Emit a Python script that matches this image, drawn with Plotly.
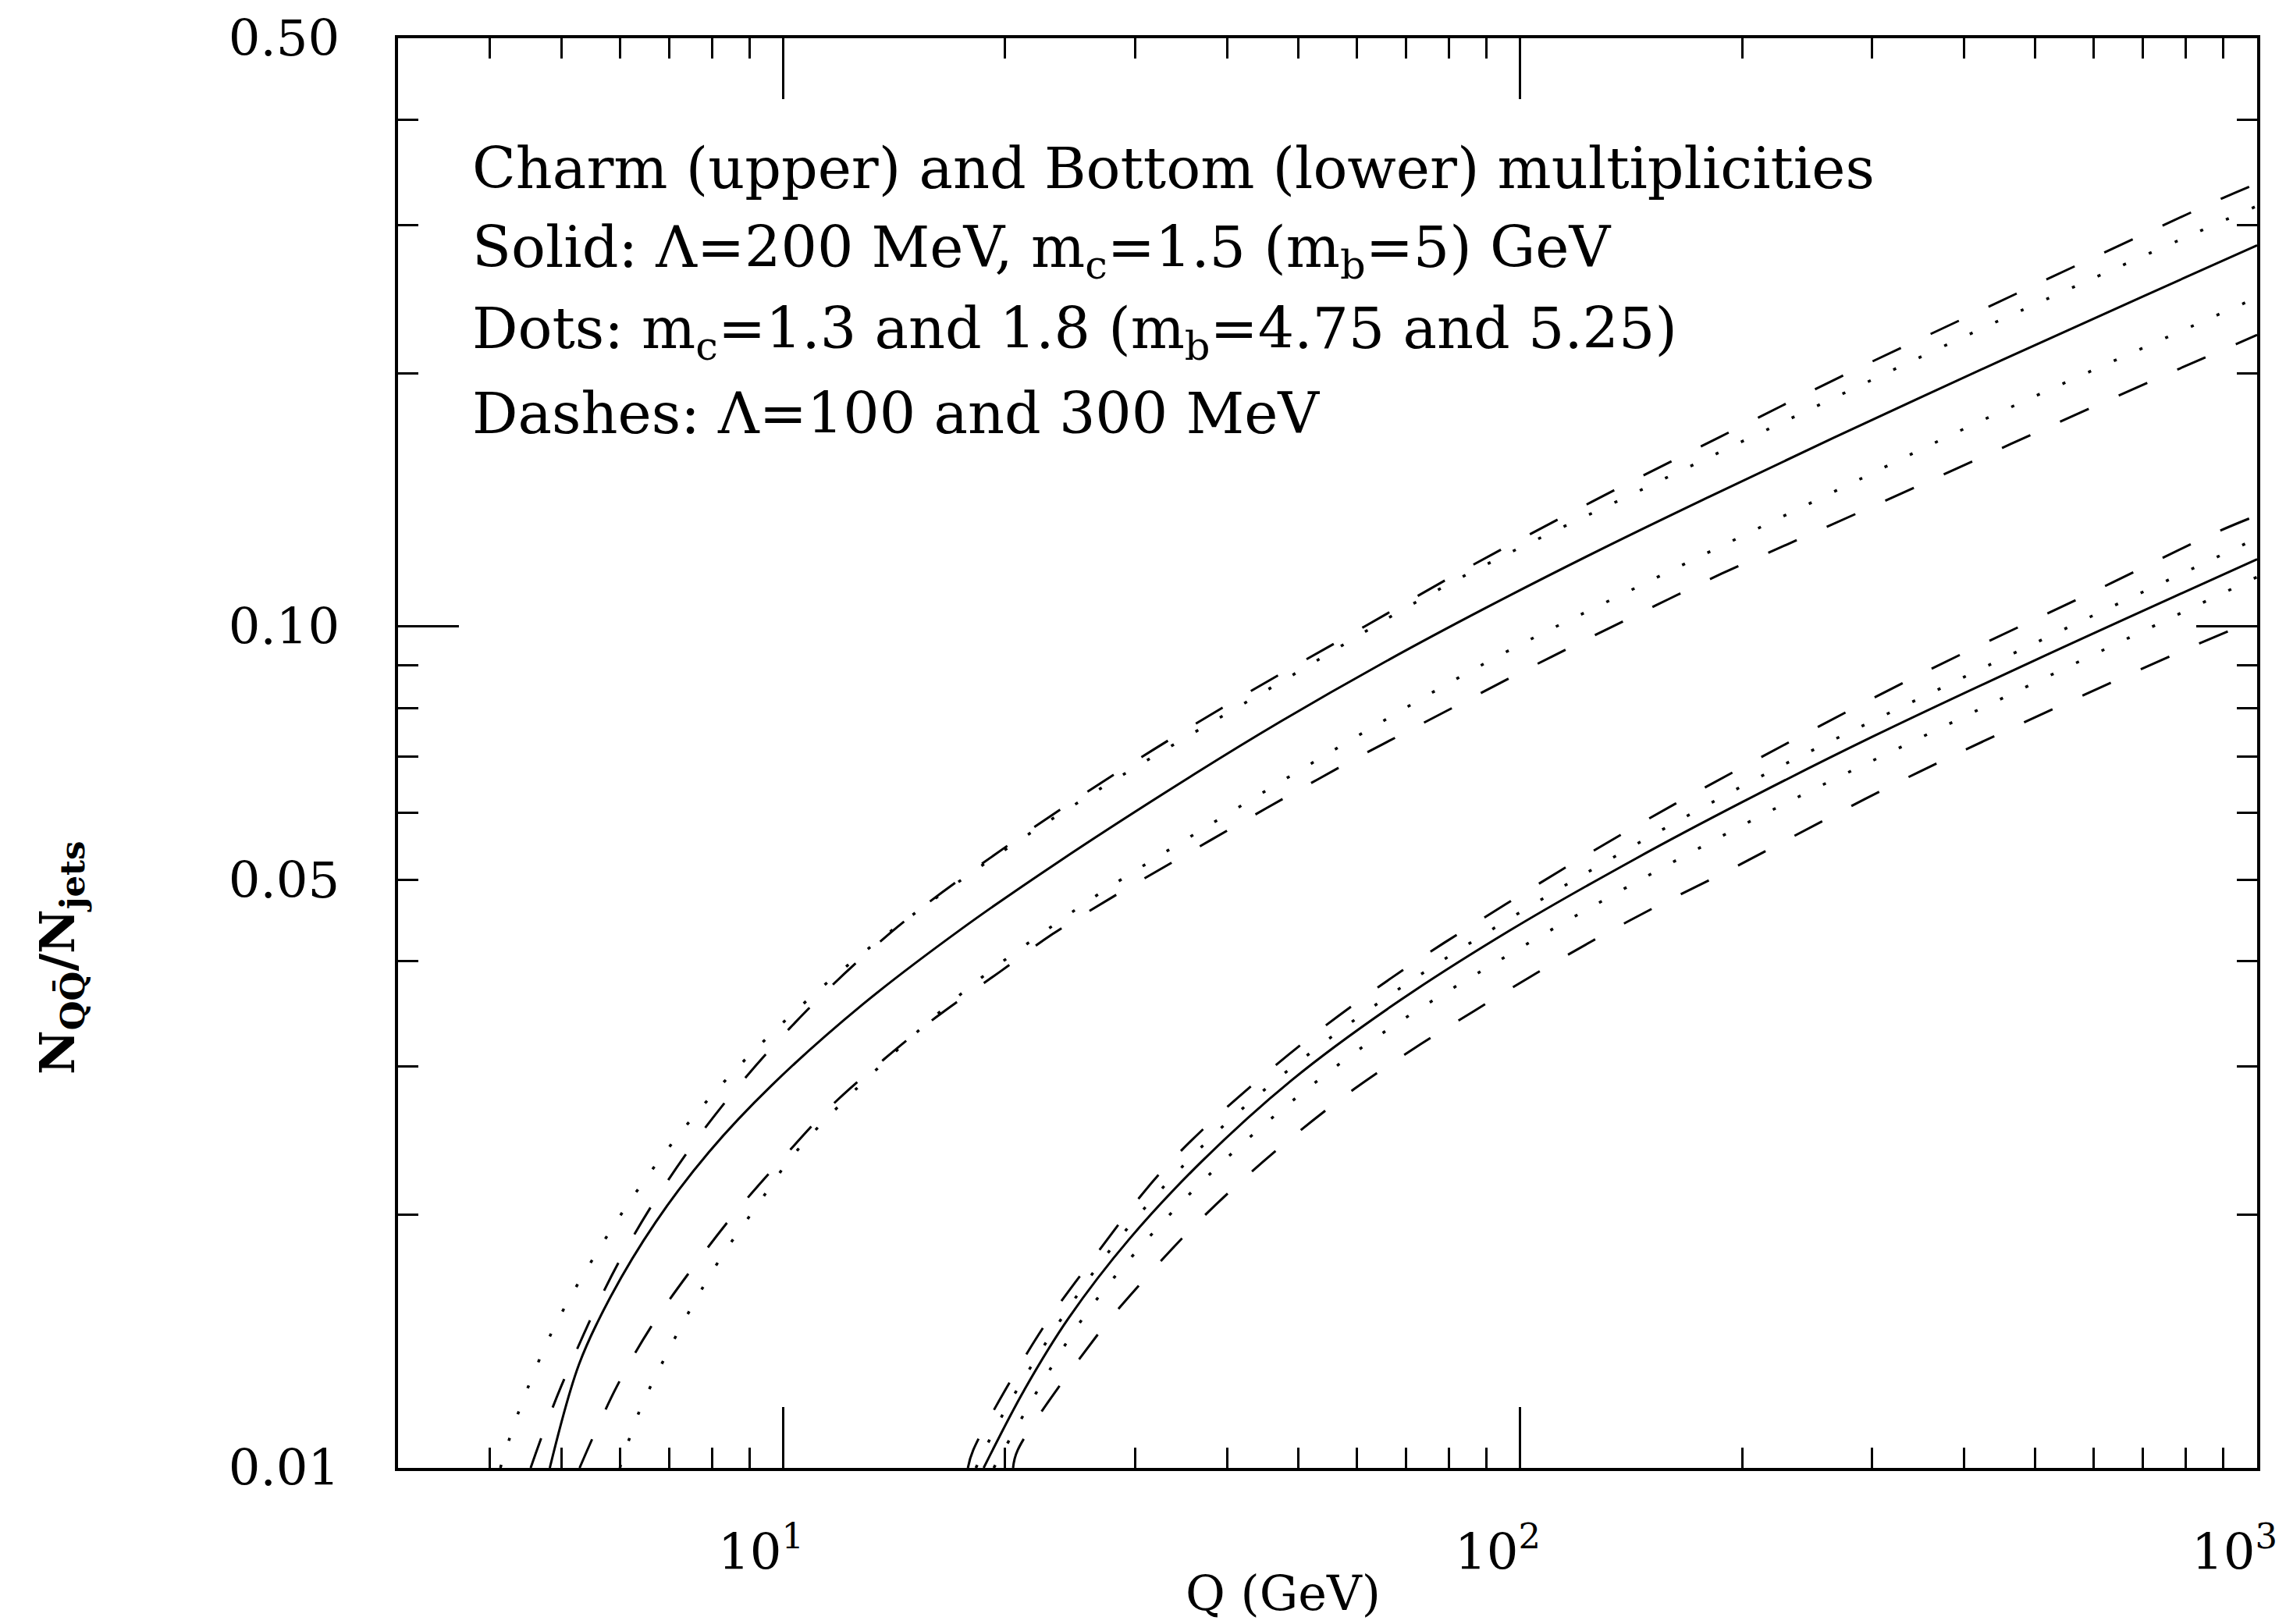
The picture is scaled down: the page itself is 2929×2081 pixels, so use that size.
import math
import plotly.graph_objects as go

# Charm: central curve (Lambda=200 MeV, m_c=1.5 GeV)
charm_solid_q = [4.82, 5.28, 5.83, 6.71, 7.93, 9.64, 12.8, 17.4, 23.6, 36.4, 47.3, 65, 89.6, 130, 180, 266, 450, 700, 1000]
charm_solid_n = [0.0100, 0.01327, 0.01598, 0.01959, 0.02375, 0.02848, 0.03552, 0.04363, 0.05248, 0.06703, 0.07710, 0.09040, 0.10510, 0.12403, 0.14243, 0.16749, 0.20720, 0.24670, 0.28370]

# Charm: m_c = 1.3 (upper) and 1.8 (lower) GeV
charm_dot_hi_q = [4.13, 4.38, 4.87, 5.62, 6.56, 7.82, 9.49, 12.5, 18.2, 26.8, 46.9, 80.9, 150, 226, 445, 1000]
charm_dot_hi_n = [0.0100, 0.0117, 0.0146, 0.0182, 0.0223, 0.0271, 0.0324, 0.0402, 0.0513, 0.0640, 0.0855, 0.1129, 0.1470, 0.1745, 0.2306, 0.3160]
charm_dot_lo_q = [6.0, 6.37, 6.90, 7.53, 8.29, 9.23, 10.3, 12.5, 17.7, 23.9, 28.0, 61.9, 94, 143, 279, 425, 1000]
charm_dot_lo_n = [0.0100, 0.01165, 0.0135, 0.0156, 0.01796, 0.02054, 0.0235, 0.0281, 0.0370, 0.0449, 0.0493, 0.0752, 0.0925, 0.1110, 0.1474, 0.1760, 0.2460]

# Charm: Lambda = 300 (upper) and 100 (lower) MeV
charm_dash_hi_q = [4.54, 5.0, 6.04, 7.66, 10.2, 14.0, 20.1, 28.8, 41.7, 61.5, 84.7, 125, 186, 272, 405, 603, 903, 1000]
charm_dash_hi_n = [0.0100, 0.01253, 0.01785, 0.0247, 0.0333, 0.0433, 0.0548, 0.0676, 0.0824, 0.1000, 0.1173, 0.1406, 0.1677, 0.1980, 0.2335, 0.2750, 0.3235, 0.3360]
charm_dash_lo_q = [5.29, 5.93, 6.61, 7.50, 8.56, 9.92, 11.6, 13.7, 16.1, 19.7, 23.2, 28.1, 33.8, 41.0, 49.7, 60.4, 70.0, 84.9, 103, 125, 153, 187.5, 231, 350, 524, 785, 1000]
charm_dash_lo_n = [0.0100, 0.01245, 0.0147, 0.0172, 0.0200, 0.0232, 0.0269, 0.0306, 0.0343, 0.0389, 0.0431, 0.0478, 0.0525, 0.0579, 0.0637, 0.0700, 0.0749, 0.0818, 0.0893, 0.0972, 0.1060, 0.1155, 0.1253, 0.1474, 0.1730, 0.2025, 0.2220]

# Bottom: central curve (Lambda=200 MeV, m_b=5 GeV)
bottom_solid_q = [18.7, 21.2, 24.4, 29.5, 37, 49, 66.7, 96.6, 143.5, 200, 300, 500, 1000]
bottom_solid_n = [0.0100, 0.01235, 0.01508, 0.01872, 0.02315, 0.02891, 0.03532, 0.04347, 0.05298, 0.06182, 0.07388, 0.09120, 0.12020]

# Bottom: m_b = 4.75 (upper) and 5.25 (lower) GeV
bottom_dot_hi_q = [18.25, 20, 25, 30, 40, 60, 100, 200, 400, 1000]
bottom_dot_hi_n = [0.0100, 0.01171, 0.0160, 0.01974, 0.02573, 0.03422, 0.04575, 0.06457, 0.08705, 0.1273]
bottom_dot_lo_q = [19.3, 25, 30, 40, 60, 100, 200, 400, 1000]
bottom_dot_lo_n = [0.0100, 0.01469, 0.0180, 0.02336, 0.03128, 0.04149, 0.0580, 0.0781, 0.1145]

# Bottom: Lambda = 300 (upper) and 100 (lower) MeV
bottom_dash_hi_q = [17.8, 18.1, 22.2, 25.9, 33.2, 46.8, 66.8, 95.7, 141, 200, 347, 600, 874, 1000]
bottom_dash_hi_n = [0.0100, 0.0105, 0.0144, 0.0174, 0.0229, 0.0302, 0.0382, 0.0468, 0.0574, 0.0680, 0.0875, 0.1100, 0.1290, 0.1355]
bottom_dash_lo_q = [20.5, 20.8, 26.7, 30.8, 35.9, 42.0, 49.8, 59.5, 71.3, 86.5, 103.5, 124.7, 152.5, 186, 347, 778, 1000]
bottom_dash_lo_n = [0.0100, 0.0105, 0.0144, 0.0167, 0.0193, 0.0220, 0.0250, 0.0282, 0.0314, 0.0349, 0.0384, 0.0422, 0.0464, 0.0506, 0.0671, 0.0929, 0.1020]

# Axis ticks
x_major = [10, 100, 1000]
x_major_text = ["10<sup>1</sup>", "10<sup>2</sup>", "10<sup>3</sup>"]
x_minor = [4, 5, 6, 7, 8, 9, 20, 30, 40, 50, 60, 70, 80, 90, 200, 300, 400, 500, 600, 700, 800, 900]
y_labels = [0.01, 0.05, 0.1, 0.5]
y_label_text = ["0.01", "0.05", "0.10", "0.50"]
y_long = [0.1]
y_minor = [0.02, 0.03, 0.04, 0.06, 0.07, 0.08, 0.09, 0.2, 0.3, 0.4]

text_lines = [
    "Charm (upper) and Bottom (lower) multiplicities",
    "Solid: \u039b=200 MeV, m<sub>c</sub>=1.5 (m<sub>b</sub>=5) GeV",
    "Dots: m<sub>c</sub>=1.3 and 1.8 (m<sub>b</sub>=4.75 and 5.25)",
    "Dashes: \u039b=100 and 300 MeV",
]

FONT = "DejaVu Serif"
INK = "black"
W, H = 2929, 2081
L, R, T, B = 510, 37, 42, 200
X_RANGE = [math.log10(3.0), 3.0]
Y_RANGE = [-2.0, math.log10(0.5)]

DASH = "40px,42px"
DOT = "4px,32px"

fig = go.Figure()

curves = [
    (charm_dash_hi_q, charm_dash_hi_n, DASH),
    (charm_dot_hi_q, charm_dot_hi_n, DOT),
    (charm_solid_q, charm_solid_n, "solid"),
    (charm_dot_lo_q, charm_dot_lo_n, DOT),
    (charm_dash_lo_q, charm_dash_lo_n, DASH),
    (bottom_dash_hi_q, bottom_dash_hi_n, DASH),
    (bottom_dot_hi_q, bottom_dot_hi_n, DOT),
    (bottom_solid_q, bottom_solid_n, "solid"),
    (bottom_dot_lo_q, bottom_dot_lo_n, DOT),
    (bottom_dash_lo_q, bottom_dash_lo_n, DASH),
]
for q, n, dash in curves:
    fig.add_trace(go.Scatter(
        x=q, y=n, mode="lines",
        line=dict(color=INK, width=3.5 if dash == DOT else 3, dash=dash,
                  shape="spline", smoothing=1.0),
        showlegend=False, hoverinfo="skip",
    ))

# empty trace that carries the overlay axis holding the long 0.10 tick
fig.add_trace(go.Scatter(x=[None], y=[None], yaxis="y2", mode="lines",
                         showlegend=False, hoverinfo="skip"))

tick_font = dict(family=FONT, size=64, color=INK)

fig.update_layout(
    width=W, height=H,
    margin=dict(l=L, r=R, t=T, b=B),
    paper_bgcolor="white", plot_bgcolor="white",
    showlegend=False,
    xaxis=dict(
        type="log", range=X_RANGE,
        showline=True, linewidth=4, linecolor=INK, mirror="ticks",
        ticks="inside", ticklen=78, tickwidth=3, tickcolor=INK,
        tickmode="array", tickvals=x_major, showticklabels=False,
        showgrid=False, zeroline=False,
        minor=dict(ticks="inside", ticklen=26, tickwidth=3, tickcolor=INK,
                   tickmode="array", tickvals=x_minor, showgrid=False),
    ),
    yaxis=dict(
        type="log", range=Y_RANGE,
        showline=True, linewidth=4, linecolor=INK, mirror="ticks",
        ticks="inside", ticklen=26, tickwidth=3, tickcolor=INK,
        tickmode="array", tickvals=y_labels, ticktext=y_label_text,
        tickfont=tick_font, ticklabelstandoff=58,
        showgrid=False, zeroline=False,
        minor=dict(ticks="inside", ticklen=26, tickwidth=3, tickcolor=INK,
                   tickmode="array", tickvals=y_minor, showgrid=False),
    ),
    yaxis2=dict(
        type="log", range=Y_RANGE, overlaying="y", side="left", anchor="x",
        showline=True, linewidth=4, linecolor=INK, mirror="ticks",
        ticks="inside", ticklen=78, tickwidth=3, tickcolor=INK,
        tickmode="array", tickvals=y_long, showticklabels=False,
        showgrid=False, zeroline=False,
    ),
)

# decade labels under the x axis, placed on the axis scale
for v, txt in zip(x_major, x_major_text):
    fig.add_annotation(
        text=txt, xref="x", yref="paper", x=math.log10(v), y=-0.0800,
        xanchor="center", yanchor="bottom", xshift=-29, showarrow=False,
        font=tick_font,
    )

# description block inside the frame
line_y = [0.9089, 0.8514, 0.7944, 0.7379]
for txt, yy in zip(text_lines, line_y):
    fig.add_annotation(
        text=txt, xref="paper", yref="paper", x=0.039, y=yy,
        xanchor="left", yanchor="middle", showarrow=False,
        font=dict(family=FONT, size=73, color=INK),
    )

# axis titles
fig.add_annotation(
    text="Q (GeV)", xref="paper", yref="paper", x=0.476, y=-0.1085,
    xanchor="center", yanchor="bottom", showarrow=False,
    font=dict(family=FONT, size=62, color=INK),
)
fig.add_annotation(
    text="<b>N<sub>QQ\u0304</sub>/N<sub>jets</sub></b>", xref="paper", yref="paper",
    x=-0.1814, y=0.357, xanchor="center", yanchor="middle",
    textangle=-90, showarrow=False,
    font=dict(family=FONT, size=62, color=INK),
)

fig.write_html("out.html")
